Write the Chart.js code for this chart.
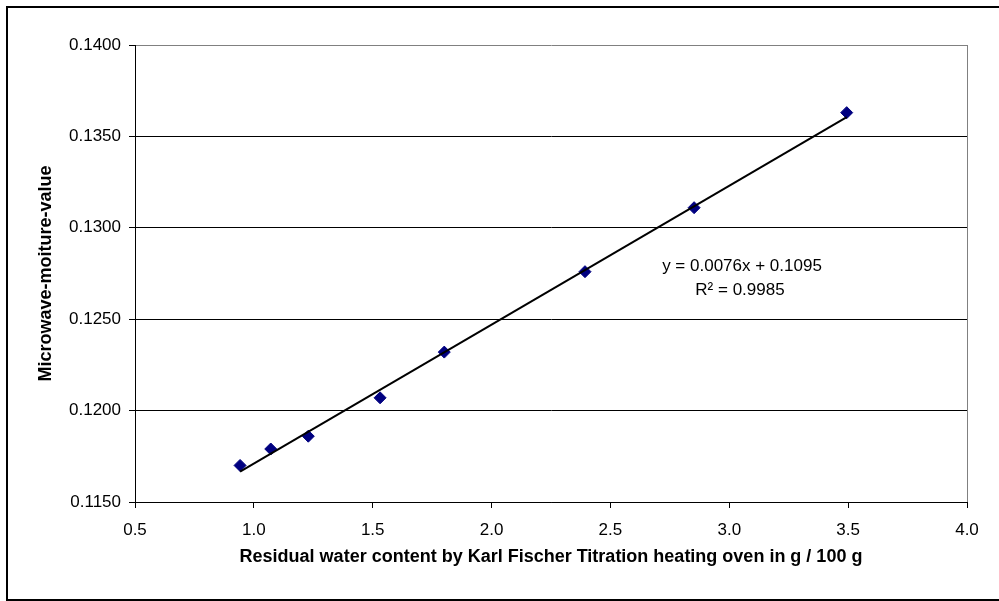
<!DOCTYPE html>
<html>
<head>
<meta charset="utf-8">
<script src="https://cdn.jsdelivr.net/npm/chart.js@4.4.1/dist/chart.umd.min.js"></script>
<style>
  html, body { margin: 0; padding: 0; background: #fff; overflow: hidden; }
  #wrap { position: relative; width: 999px; height: 601px; }
  #frame { position: absolute; left: 6px; top: 6px; width: 1010px; height: 591px; border: 2px solid #000; box-sizing: content-box; pointer-events: none; }
  canvas { position: absolute; left: 0; top: 0; }
</style>
</head>
<body>
<div id="wrap">
  <canvas id="chart" width="999" height="601"></canvas>
  <div id="frame"></div>
</div>
<script>
// Data
const kfWater = [0.942, 1.071, 1.229, 1.531, 1.801, 2.393, 2.852, 3.494];
const microwaveValue = [0.1170, 0.1179, 0.1186, 0.1207, 0.1232, 0.1276, 0.1311, 0.1363];

// Trendline from the chart label
const trendSlope = 0.0076;
const trendIntercept = 0.1095;
const trendText = ['y = 0.0076x + 0.1095', 'R\u00B2 = 0.9985'];

const xTicks = { min: 0.5, max: 4.0, step: 0.5 };
const yTicks = { min: 0.115, max: 0.14, step: 0.005 };

Chart.defaults.font.family = '"Liberation Sans", Arial, sans-serif';
Chart.defaults.color = '#000';

const points = kfWater.map((x, i) => ({ x: x, y: microwaveValue[i] }));
const xLo = Math.min(...kfWater);
const xHi = Math.max(...kfWater);
const trendLine = [
  { x: xLo, y: trendSlope * xLo + trendIntercept },
  { x: xHi, y: trendSlope * xHi + trendIntercept }
];

// equation label, drawn like Excel's trendline label
const equationLabel = {
  id: 'equationLabel',
  afterDatasetsDraw(chart) {
    const ctx = chart.ctx;
    ctx.save();
    ctx.fillStyle = '#000';
    ctx.font = '17px "Liberation Sans", Arial, sans-serif';
    ctx.textAlign = 'center';
    ctx.textBaseline = 'alphabetic';
    ctx.fillText(trendText[0], 742, 271);
    ctx.fillText(trendText[1], 740, 295);
    ctx.restore();
  }
};

new Chart(document.getElementById('chart'), {
  type: 'scatter',
  data: {
    datasets: [
      {
        label: 'Trend',
        type: 'line',
        data: trendLine,
        borderColor: '#000',
        borderWidth: 2,
        pointRadius: 0,
        fill: false,
        order: 0
      },
      {
        label: 'Microwave',
        data: points,
        pointStyle: 'rectRot',
        pointRadius: 6,
        backgroundColor: '#000080',
        borderColor: '#000080',
        borderWidth: 1,
        order: 1
      }
    ]
  },
  options: {
    responsive: false,
    animation: false,
    layout: { padding: { top: 45, right: 32, left: 0, bottom: 0 } },
    plugins: { legend: { display: false }, tooltip: { enabled: false } },
    scales: {
      x: {
        type: 'linear',
        min: xTicks.min, max: xTicks.max,
        afterFit: (s) => { s.height = 99; },
        ticks: { stepSize: xTicks.step, padding: 12, font: { size: 17 }, color: '#000', callback: (v) => Number(v).toFixed(1) },
        grid: {
          color: (c) => (c.tick && Math.abs(c.tick.value - xTicks.max) < 1e-9 ? '#808080' : 'transparent'),
          tickColor: '#000', tickLength: 6, lineWidth: 1
        },
        border: { display: true, color: '#000', width: 1 },
        title: {
          display: true,
          text: 'Residual water content by Karl Fischer Titration heating oven in g / 100 g',
          font: { size: 18, weight: 'bold' }, color: '#000',
          padding: { top: 0, bottom: 33 }
        }
      },
      y: {
        type: 'linear',
        min: yTicks.min, max: yTicks.max,
        afterFit: (s) => { s.width = 135; },
        ticks: { stepSize: yTicks.step, padding: 8, font: { size: 17 }, color: '#000', callback: (v) => Number(v).toFixed(4) },
        grid: {
          color: (c) => (c.tick && Math.abs(c.tick.value - yTicks.max) < 1e-9 ? '#808080' : '#000'),
          tickColor: '#000', tickLength: 6, lineWidth: 1
        },
        border: { display: true, color: '#000', width: 1 },
        title: {
          display: true,
          text: 'Microwave-moiture-value',
          font: { size: 18, weight: 'bold' }, color: '#000',
          padding: { top: 35, bottom: 0 }
        }
      }
    }
  },
  plugins: [equationLabel]
});
</script>
</body>
</html>
